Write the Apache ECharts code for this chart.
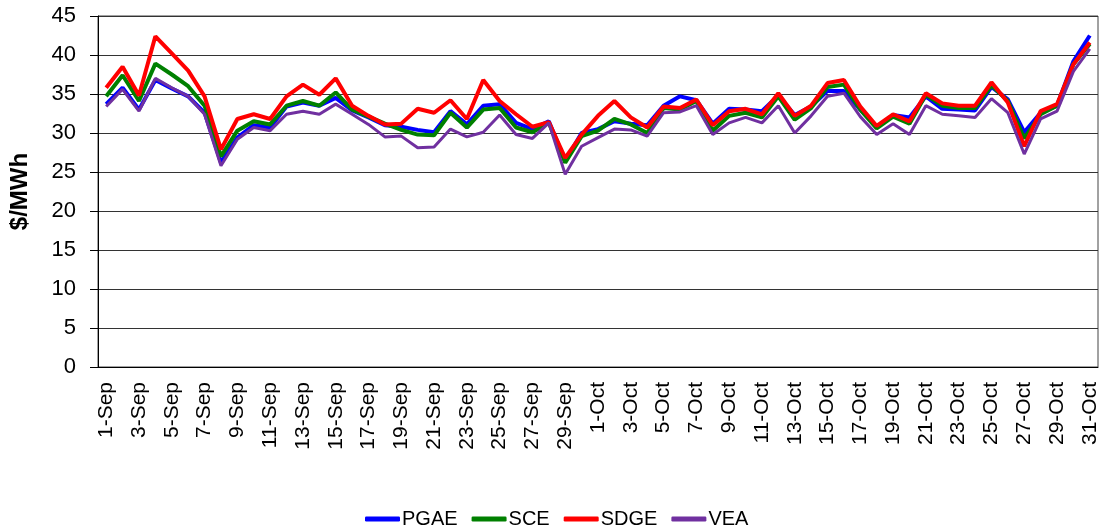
<!DOCTYPE html>
<html>
<head>
<meta charset="utf-8">
<script src="https://cdn.jsdelivr.net/npm/echarts@6/dist/echarts.min.js"></script>
<style>
  html, body { margin: 0; padding: 0; background: #fff; }
  #main { width: 1102px; height: 529px; }
</style>
</head>
<body>
<div id="main"></div>
<script>
// days 1-Sep .. 31-Oct
var days = [];
for (var d = 1; d <= 30; d++) days.push(d + '-Sep');
for (var d = 1; d <= 31; d++) days.push(d + '-Oct');

var pgae = [33.7, 35.8, 33.0, 36.8, 35.7, 34.7, 32.6, 26.2, 29.4, 31.0, 30.7, 33.4, 33.9, 33.5, 34.5,
  32.9, 32.0, 31.0, 30.8, 30.4, 30.1, 32.8, 31.1, 33.5, 33.7, 31.3, 30.5, 31.5, 26.4, 30.0,
  30.5, 31.5, 31.2, 31.0, 33.5, 34.7, 34.2, 31.2, 33.1, 33.0, 32.8, 34.8, 32.3, 33.4, 35.4,
  35.4, 33.0, 30.8, 32.3, 32.0, 34.7, 33.1, 33.0, 32.9, 35.9, 34.3, 30.1, 32.6, 33.5, 39.2, 42.5];
var sce = [34.7, 37.4, 34.1, 38.9, 37.5, 36.0, 33.5, 27.0, 30.3, 31.5, 31.1, 33.5, 34.1, 33.5, 35.2,
  33.0, 32.1, 31.2, 30.4, 29.8, 29.7, 32.6, 30.7, 33.0, 33.2, 30.7, 30.1, 31.3, 26.2, 29.6,
  30.3, 31.8, 31.1, 30.0, 33.2, 33.0, 34.1, 30.3, 32.2, 32.6, 32.0, 34.7, 31.7, 33.2, 35.9,
  36.2, 33.0, 30.6, 32.1, 31.2, 34.9, 33.5, 33.2, 33.2, 36.1, 34.1, 29.3, 32.4, 33.5, 38.8, 41.4];
var sdge = [35.8, 38.5, 34.8, 42.4, 40.2, 38.0, 34.7, 27.9, 31.8, 32.4, 31.8, 34.7, 36.2, 34.9, 37.0,
  33.5, 32.2, 31.1, 31.2, 33.1, 32.6, 34.2, 31.8, 36.8, 34.1, 32.4, 30.8, 31.4, 26.8, 29.8,
  32.2, 34.1, 32.0, 30.7, 33.4, 33.2, 34.3, 31.0, 32.8, 33.1, 32.4, 35.1, 32.2, 33.5, 36.4,
  36.8, 33.4, 30.9, 32.4, 31.5, 35.1, 33.8, 33.5, 33.5, 36.5, 33.9, 28.3, 32.8, 33.7, 38.8, 41.6];
var vea = [33.4, 35.6, 32.8, 37.0, 35.8, 34.7, 32.4, 25.8, 29.2, 30.7, 30.3, 32.4, 32.8, 32.4, 33.7,
  32.4, 31.1, 29.5, 29.6, 28.1, 28.2, 30.5, 29.5, 30.1, 32.3, 29.8, 29.3, 31.3, 24.7, 28.3,
  29.4, 30.5, 30.4, 29.6, 32.6, 32.7, 33.5, 29.8, 31.3, 32.0, 31.3, 33.5, 30.0, 32.2, 34.7,
  35.1, 32.1, 29.8, 31.2, 29.8, 33.5, 32.4, 32.2, 32.0, 34.4, 32.6, 27.3, 31.8, 32.8, 37.9, 40.8];

var chart = echarts.init(document.getElementById('main'), null, { renderer: 'canvas' });

function line(name, data, color, width) {
  return {
    name: name,
    type: 'line',
    data: data,
    symbol: 'none',
    lineStyle: { color: color, width: width },
    itemStyle: { color: color }
  };
}

var option = {
  animation: false,
  textStyle: { fontFamily: 'Liberation Sans, Arial, sans-serif' },
  grid: {
    left: 90, right: 4, top: 16, bottom: 162,
    show: true, borderColor: '#444', borderWidth: 1
  },
  legend: {
    left: 360, top: 504, padding: 5,
    itemWidth: 35, itemHeight: 5, itemGap: 14,
    icon: 'roundRect',
    textStyle: { fontSize: 20, color: '#000', padding: [0, 0, 0, -3] },
    data: ['PGAE', 'SCE', 'SDGE', 'VEA']
  },
  xAxis: {
    type: 'category',
    data: days,
    boundaryGap: true,
    axisLine: { lineStyle: { color: '#000' } },
    axisTick: { interval: 1, length: 7, lineStyle: { color: '#000' } },
    axisLabel: { interval: 1, rotate: 90, fontSize: 21, color: '#000', margin: 15 }
  },
  yAxis: {
    type: 'value',
    min: 0, max: 45, interval: 5,
    name: '$/MWh',
    nameLocation: 'middle',
    nameGap: 66,
    nameTextStyle: { fontSize: 24, fontWeight: 'bold', color: '#000' },
    axisLine: { show: true, lineStyle: { color: '#000' } },
    axisTick: { show: true, length: 8, lineStyle: { color: '#000' } },
    axisLabel: { fontSize: 22, color: '#000', margin: 22 },
    splitLine: { lineStyle: { color: '#333', width: 1 } }
  },
  series: [
    line('PGAE', pgae, '#0000ff', 4),
    line('SCE', sce, '#008000', 4),
    line('SDGE', sdge, '#ff0000', 4),
    line('VEA', vea, '#7030a0', 3)
  ]
};
chart.setOption(option);
</script>
</body>
</html>
